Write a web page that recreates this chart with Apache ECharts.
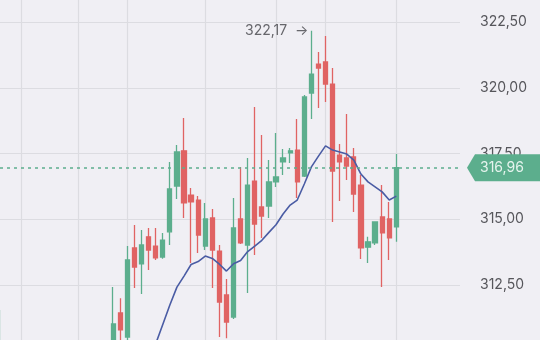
<!DOCTYPE html>
<html><head><meta charset="utf-8">
<script src="https://cdn.jsdelivr.net/npm/echarts@6/dist/echarts.min.js"></script>
<style>html,body{margin:0;padding:0;background:#f0eff4}#c{width:540px;height:340px}</style>
</head><body><div id="c"></div>
<script>
// ---- data (index 0 .. 56 are candles; later categories are empty space) ----
const categories = Array.from({length: 66}, (_, i) => String(i + 1));
const opens = [309.8, null,null,null,null,null,null,null,null,null,null,null,null,null,null,null,
  310.2, 311.44, 310.52, 313.91, 313.30, 314.33, 313.98, 313.56, 314.52, 316.26,
  317.60, 315.92, 315.73, 313.98, 315.05, 313.79, 312.12, 311.28, 315.01, 314.02,
  316.45, 315.47, 315.50, 316.42, 317.18, 317.52, 317.63, 316.64, 319.80, 320.90,
  320.98, 320.14, 317.44, 317.33, 317.37, 316.30, 313.94, 314.10, 315.09, 315.01, 314.71];
const closes = [310.3, null,null,null,null,null,null,null,null,null,null,null,null,null,null,null,
  311.02, 310.79, 313.45, 313.18, 314.02, 313.83, 313.53, 314.21, 316.15, 317.56,
  315.62, 315.66, 314.40, 315.01, 313.83, 311.85, 311.09, 314.67, 314.10, 316.30,
  314.82, 315.12, 316.42, 316.61, 317.33, 317.60, 316.42, 319.65, 320.52, 320.75,
  320.14, 316.83, 317.18, 317.02, 315.96, 313.91, 314.14, 314.90, 314.48, 314.29, 316.96];
const lows = [309.5, null,null,null,null,null,null,null,null,null,null,null,null,null,null,null,
  310.0, 310.3, 310.3, 312.39, 312.16, 313.07, 313.45, 313.50, 314.02, 315.77,
  315.05, 313.34, 313.72, 313.83, 312.39, 310.52, 310.48, 311.21, 314.06, 312.20,
  313.64, 314.29, 315.05, 316.23, 316.68, 317.14, 315.81, 316.61, 318.81, 319.23,
  319.46, 314.90, 315.69, 316.49, 315.28, 313.49, 313.34, 314.02, 312.42, 313.45, 314.14];
const highs = [311.55, null,null,null,null,null,null,null,null,null,null,null,null,null,null,null,
  312.42, 312.0, 313.98, 314.78, 314.59, 314.67, 314.67, 314.48, 317.18, 317.82,
  318.85, 316.19, 315.88, 315.62, 315.39, 314.02, 312.73, 315.81, 316.99, 317.33,
  319.27, 318.20, 317.25, 318.28, 317.67, 317.71, 318.81, 319.72, 322.17, 321.36,
  321.97, 320.75, 317.86, 319.00, 317.71, 316.68, 314.33, 314.90, 316.30, 315.66, 317.48];
const ma = [null,null,null,null,null,null,null,null,null,null,null,null,null,null,null,null,
  null,null,null,null,null, 309.5, 310.26, 311.00, 311.74, 312.42,
  312.84, 313.28, 313.39, 313.60, 313.51, 313.29, 313.03, 313.31, 313.43, 313.77,
  313.98, 314.20, 314.50, 314.79, 315.20, 315.54, 315.73, 316.34, 316.99, 317.40,
  317.79, 317.63, 317.56, 317.48, 317.25, 316.72, 316.42, 316.23, 316.04, 315.73, 315.88];
const gridDays = [3, 11, 18, 29, 39, 46, 56];
const yMin = 310, yMax = 325, yStep = 2.5;

const fmt = v => v.toFixed(2).replace('.', ',');
const e = v => (v === null ? '-' : v);
const candles = opens.map((o, i) => [e(o), e(closes[i]), e(lows[i]), e(highs[i])]);
const last = closes[closes.length - 1];

const UP = '#5cae8d', DOWN = '#e06363', GRID = '#dcdce1';
const chart = echarts.init(document.getElementById('c'), null, {renderer: 'canvas'});
chart.setOption({
  backgroundColor: '#f0eff4',
  animation: false,
  textStyle: {fontFamily: 'Inter, Roboto, sans-serif'},
  grid: {left: 0, right: 80, top: -43.75, height: 394.5, containLabel: false, outerBoundsMode: 'none'},
  xAxis: {
    type: 'category', data: categories, boundaryGap: false,
    axisLine: {show: false}, axisTick: {show: false}, axisLabel: {show: false},
    splitLine: {show: true, interval: (idx) => gridDays.includes(idx), lineStyle: {color: GRID, width: 1.2}}
  },
  yAxis: {
    type: 'value', position: 'right', min: yMin, max: yMax, interval: yStep, scale: true,
    axisLine: {show: false}, axisTick: {show: false},
    axisLabel: {margin: 20, color: '#56565b', fontSize: 14, formatter: fmt, fontFamily: 'Inter, Roboto, sans-serif'},
    splitLine: {lineStyle: {color: GRID, width: 1.2}}
  },
  series: [
    {
      type: 'candlestick', data: candles, barWidth: 4.8,
      itemStyle: {color: UP, color0: DOWN, borderColor: UP, borderColor0: DOWN, borderWidth: 1.3},
      markPoint: {
        symbol: 'circle', symbolSize: 0.01,
        data: [{type: 'max', valueDim: 'highest'}],
        label: {
          show: true, position: 'left', distance: 3, color: '#66666b', fontSize: 14,
          fontFamily: 'Inter, Roboto, sans-serif',
          formatter: p => fmt(p.value) + '  \u2192'
        }
      }
    },
    {
      type: 'line', data: ma, symbol: 'none', connectNulls: false,
      lineStyle: {color: '#4a5ca4', width: 1.6}, itemStyle: {color: '#4a5ca4'}, z: 3,
      markLine: {
        silent: true, symbol: 'none', label: {show: false},
        itemStyle: {color: UP},
        lineStyle: {color: UP, type: [3, 4], width: 1.6, opacity: 1},
        emphasis: {disabled: true},
        data: [{yAxis: last, lineStyle: {color: UP}}]
      }
    }
  ]
});

// price tag on the right, positioned through the axis scales
const py = chart.convertToPixel({yAxisIndex: 0}, last);
const px = chart.convertToPixel({xAxisIndex: 0}, categories[categories.length - 1]);
chart.setOption({
  graphic: [
    {type: 'polygon', z: 100,
      shape: {points: [[px + 7, py], [px + 15, py - 13.5], [560, py - 13.5], [560, py + 13.5], [px + 15, py + 13.5]]},
      style: {fill: UP}},
    {type: 'text', z: 101, x: px + 20, y: py,
      style: {text: fmt(last), fill: '#e6f4ee', font: '14px Inter, Roboto, sans-serif', verticalAlign: 'middle'}}
  ]
});
</script></body></html>
